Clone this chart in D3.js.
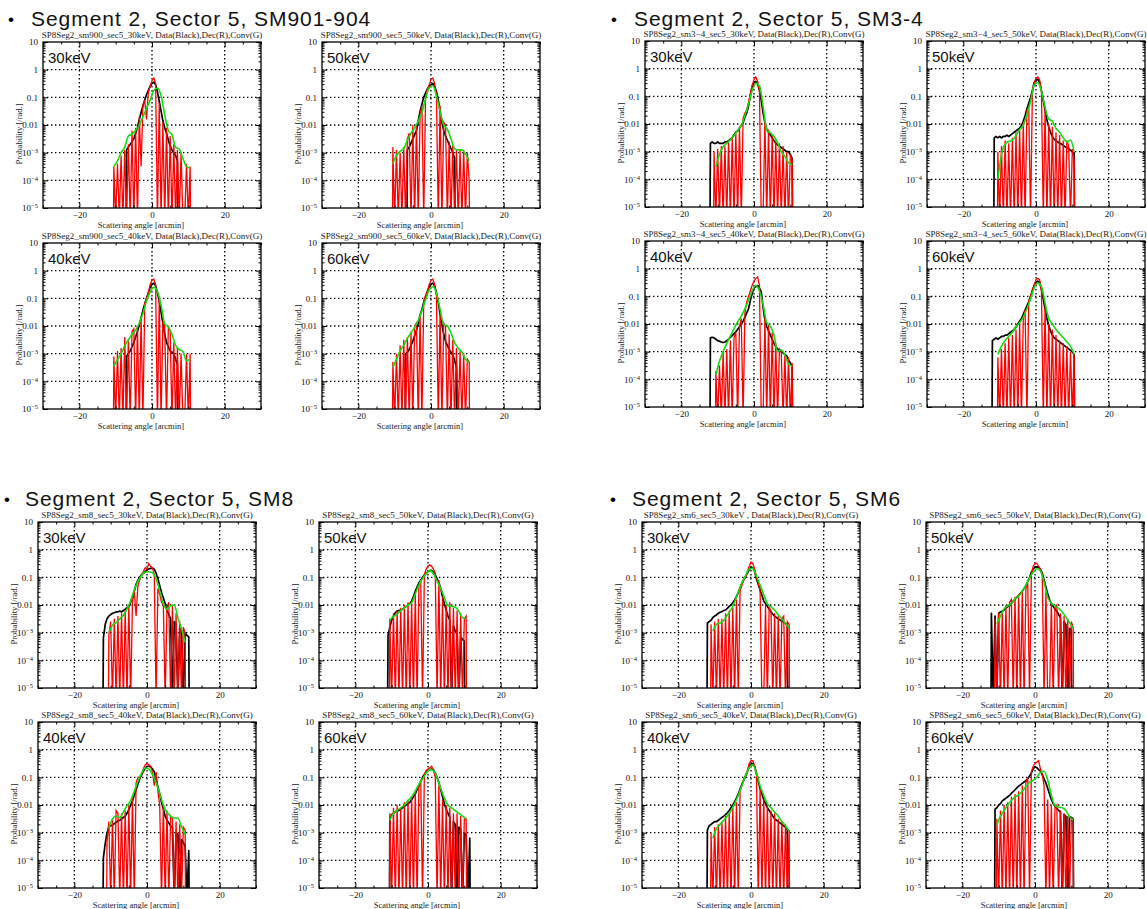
<!DOCTYPE html>
<html>
<head>
<meta charset="utf-8">
<script src="https://cdn.jsdelivr.net/npm/d3@7"></script>
<style>
  body { margin: 0; background: #fff; }
</style>
</head>
<body>
<script>
const _ = null;

// histogram bin centres [arcmin]
const bins = [-12,-11.5,-11,-10.5,-10,-9.5,-9,-8.5,-8,-7.5,-7,-6.5,-6,-5.5,-5,-4.5,-4,-3.5,-3,-2.5,
  -2,-1.5,-1,-0.5,0,0.5,1,1.5,2,2.5,3,3.5,4,4.5,5,5.5,6,6.5,7,7.5,8,8.5,9,9.5,10,10.5,11,11.5,12];
// points of the convolved curve [arcmin]
const gBins = [-10.5,-9.5,-8.5,-7.5,-6.5,-5.5,-4.5,-3.5,-2.5,-1.5,-0.5,0.5,1.5,2.5,3.5,4.5,5.5,6.5,7.5,8.5,9.5,10.5];

const modules = ["sm900", "sm3−4", "sm8", "sm6"];
const headers = ["Segment 2, Sector 5, SM901-904", "Segment 2, Sector 5, SM3-4",
  "Segment 2, Sector 5, SM8", "Segment 2, Sector 5, SM6"];
const energies = ["30keV", "50keV", "40keV", "60keV"];

// all values are log10(probability); -5 = bottom of the plot
// ---- SM901-904
const black_sm900_30 = [_,_,_,_,_,_,_,_,_,_,
  -2.9,-2.8,-2.7,-2.6,-2.5,-2.3,-2.1,-1.8,-1.55,-1.3,
  -1.1,-0.9,-0.75,-0.6,-0.5,-0.45,-0.55,-0.8,-1.15,-1.5,
  -1.85,-2.1,-2.3,-2.55,-2.75,-2.9,-3.0,-3.1,-3.3,_,
  _,_,_,_,_,_,_,_,_];
const red_sm900_30 = [_,_,_,-3.5,-5,-3.4,-5,-3.1,-5,-2.9,
  -5,-2.7,-5,-2.2,-5,-2.1,-5,-1.7,-3.5,-1.3,
  -1.1,-1.8,-0.8,-0.6,-0.4,-0.3,-0.5,-5,-1.2,-5,
  -1.9,-5,-2.1,-5,-2.4,-5,-2.7,-5,-2.9,-5,
  -3.0,-5,-5,-3.4,-5,-3.5,_,_,_];
const green_sm900_30 = [-3.5,-3.3,-3.0,-2.8,-2.4,-2.33,-2.2,-2.0,-1.7,-1.4,-1.1,-0.74,-0.66,-0.94,-1.63,-2.2,-2.35,-2.8,-2.88,-3.2,-3.5,-3.56];

const black_sm900_50 = [_,_,_,_,_,_,_,_,_,_,
  _,-2.9,-2.8,-2.65,-2.5,-2.35,-2.2,-1.85,-1.5,-1.25,
  -1.0,-0.85,-0.7,-0.6,-0.55,-0.5,-0.6,-0.8,-1.1,-1.5,
  -1.9,-2.2,-2.4,-2.55,-2.7,-2.85,-3.0,-3.2,_,_,
  _,_,_,_,_,_,_,_,_];
const red_sm900_50 = [_,_,_,-2.8,-5,-2.9,-5,-3.0,-5,-2.8,
  -5,-2.5,-2.3,-5,-2.0,-5,-2.0,-5,-1.6,-1.3,
  -5,-1.0,-0.7,-0.55,-0.35,-0.3,-0.5,-0.9,-5,-1.3,
  -5,-1.9,-2.0,-5,-2.6,-5,-2.7,-5,-2.9,-5,
  -2.9,-5,-2.9,-5,-3.0,-4.0,_,_,_];
const green_sm900_50 = [-3.4,-3.1,-2.95,-2.85,-2.55,-2.3,-2.1,-1.85,-1.55,-1.05,-0.65,-0.57,-0.95,-1.5,-2.0,-2.15,-2.5,-2.85,-2.9,-2.9,-3.05,-3.3];

const black_sm900_40 = [_,_,_,_,_,_,_,_,_,_,
  -3.1,-3.0,-2.9,-2.75,-2.6,-2.4,-2.2,-1.95,-1.7,-1.45,
  -1.2,-1.0,-0.8,-0.6,-0.5,-0.45,-0.55,-0.8,-1.1,-1.5,
  -1.9,-2.3,-2.6,-2.75,-2.9,-2.95,-3.0,-3.2,-3.4,_,
  _,_,_,_,_,_,_,_,_];
const red_sm900_40 = [_,_,_,-3.1,-5,-2.9,-5,-2.8,-5,-2.4,
  -5,-2.5,-5,-2.2,-2.1,-5,-2.0,-5,-1.7,-5,
  -1.2,-1.0,-0.8,-0.5,-0.35,-0.3,-0.5,-5,-1.0,-5,
  -1.8,-2.0,-5,-2.0,-2.2,-5,-2.6,-5,-2.8,-5,
  -3.0,-5,-5,-3.0,-5,-3.0,_,_,_];
const green_sm900_40 = [-3.45,-3.22,-3.0,-2.72,-2.5,-2.3,-2.15,-1.9,-1.55,-1.1,-0.78,-0.6,-0.75,-1.25,-1.92,-2.03,-2.3,-2.7,-2.85,-2.92,-3.25,-3.2];

const black_sm900_60 = [_,_,_,_,_,_,_,_,_,_,
  -3.0,-2.95,-2.85,-2.7,-2.55,-2.35,-2.15,-1.9,-1.6,-1.4,
  -1.15,-0.95,-0.75,-0.6,-0.5,-0.45,-0.55,-0.8,-1.15,-1.55,
  -1.95,-2.3,-2.55,-2.7,-2.85,-2.95,-3.05,-3.25,-3.5,_,
  _,_,_,_,_,_,_,_,_];
const red_sm900_60 = [_,_,_,-3.3,-5,-3.0,-5,-2.7,-5,-2.5,
  -5,-2.4,-5,-2.2,-5,-2.0,-1.9,-5,-1.6,-5,
  -1.1,-0.9,-0.75,-0.5,-0.35,-0.3,-0.5,-0.9,-5,-1.5,
  -5,-1.9,-2.0,-5,-2.3,-5,-2.5,-5,-2.8,-5,
  -2.9,-5,-3.0,-5,-3.2,-3.3,_,_,_];
const green_sm900_60 = [-3.5,-3.2,-2.9,-2.7,-2.45,-2.25,-2.05,-1.8,-1.45,-1.05,-0.7,-0.58,-0.8,-1.4,-1.95,-2.0,-2.25,-2.6,-2.8,-2.95,-3.2,-3.3];

// ---- SM3-4
const black_sm34_30 = [-2.7,-2.65,-2.7,-2.7,-2.65,-2.7,-2.7,-2.7,-2.65,-2.65,
  -2.6,-2.55,-2.5,-2.4,-2.3,-2.25,-2.15,-2.05,-1.95,-1.75,
  -1.6,-1.35,-0.95,-0.65,-0.5,-0.46,-0.55,-0.77,-1.15,-1.6,
  -1.95,-2.2,-2.3,-2.4,-2.5,-2.6,-2.7,-2.75,-2.8,-2.85,
  -2.9,-2.95,-3.0,-3.0,-3.1,-3.25,_,_,_];
const red_sm34_30 = [_,_,-3.0,-5,-2.9,-5,-2.8,-5,-2.8,-5,
  -2.6,-5,-2.5,-5,-2.3,-5,-2.1,-5,-1.8,-1.6,
  -1.5,-1.2,-0.9,-0.6,-0.4,-0.3,-0.45,-0.8,-5,-5,
  -1.9,-5,-2.2,-5,-2.4,-5,-2.6,-5,-2.7,-5,
  -2.8,-5,-3.0,-5,-3.1,-3.3,_,_,_];
const green_sm34_30 = [-3.55,-3.1,-2.82,-2.7,-2.57,-2.42,-2.23,-2.05,-1.7,-1.28,-0.8,-0.53,-0.62,-1.37,-2.2,-2.32,-2.45,-2.68,-3.0,-3.17,-3.4,-3.48];

const black_sm34_50 = [_,-2.5,-2.45,-2.5,-2.45,-2.5,-2.45,-2.45,-2.4,-2.45,
  -2.4,-2.35,-2.3,-2.25,-2.2,-2.15,-2.05,-1.9,-1.7,-1.45,
  -1.25,-1.05,-0.8,-0.5,-0.42,-0.38,-0.5,-0.8,-1.15,-1.5,
  -1.85,-2.1,-2.3,-2.45,-2.55,-2.6,-2.65,-2.7,-2.72,-2.78,
  -2.82,-2.85,-2.9,-2.95,-3.0,-3.05,_,_,_];
const red_sm34_50 = [_,_,_,-3.0,-5,-2.8,-5,-2.6,-5,-2.7,
  -5,-2.5,-5,-2.3,-5,-2.2,-5,-1.9,-5,-1.5,
  -1.4,-5,-0.9,-0.5,-0.35,-0.3,-0.4,-0.8,-5,-1.5,
  -5,-2.0,-5,-2.1,-5,-2.3,-5,-2.4,-5,-2.6,
  -5,-2.6,-2.8,-5,-2.9,-3.3,_,_,_];
const green_sm34_50 = [-4.0,-3.1,-2.72,-2.63,-2.58,-2.42,-2.2,-2.05,-1.65,-1.18,-0.6,-0.5,-0.8,-1.4,-1.82,-1.9,-2.16,-2.3,-2.5,-2.65,-2.58,-3.0];

const black_sm34_40 = [-2.5,-2.48,-2.5,-2.55,-2.6,-2.62,-2.65,-2.67,-2.65,-2.6,
  -2.55,-2.48,-2.42,-2.35,-2.28,-2.2,-2.1,-2.0,-1.9,-1.75,
  -1.6,-1.45,-1.15,-0.9,-0.7,-0.65,-0.61,-0.7,-0.85,-1.4,
  -1.85,-2.1,-2.25,-2.4,-2.55,-2.7,-2.82,-2.9,-2.97,-3.0,
  -3.05,-3.1,-3.15,-3.3,-3.4,-3.55,_,_,_];
const red_sm34_40 = [_,_,_,-3.7,-5,-3.5,-5,-3.0,-5,-2.9,
  -5,-2.6,-5,-2.5,-2.3,-5,-2.1,-1.8,-5,-1.6,
  -1.2,-1.0,-0.8,-0.6,-0.45,-0.35,-0.3,-0.6,-5,-5,
  -1.8,-5,-2.0,-5,-2.3,-5,-2.7,-5,-2.9,-3.0,
  -5,-3.1,-5,-3.2,-5,-3.4,_,_,_];
const green_sm34_40 = [-3.85,-3.35,-3.0,-2.7,-2.43,-2.17,-1.92,-1.72,-1.45,-1.15,-0.8,-0.61,-0.8,-1.3,-1.95,-2.08,-2.4,-3.0,-2.93,-3.12,-3.45,-3.53];

const black_sm34_60 = [-2.6,-2.55,-2.5,-2.55,-2.5,-2.45,-2.45,-2.4,-2.4,-2.35,
  -2.3,-2.25,-2.2,-2.1,-2.0,-1.9,-1.8,-1.65,-1.5,-1.35,
  -1.2,-1.0,-0.8,-0.6,-0.5,-0.45,-0.5,-0.75,-1.1,-1.45,
  -1.8,-2.05,-2.25,-2.4,-2.5,-2.55,-2.6,-2.65,-2.7,-2.75,
  -2.8,-2.85,-2.9,-2.95,-3.0,-3.1,_,_,_];
const red_sm34_60 = [_,_,_,-3.2,-5,-2.9,-5,-2.7,-5,-2.5,
  -5,-2.4,-5,-2.2,-5,-2.0,-5,-1.8,-1.5,-5,
  -1.2,-1.0,-0.8,-0.6,-0.4,-0.35,-0.4,-0.8,-5,-1.4,
  -5,-2.0,-5,-2.2,-5,-2.4,-5,-2.6,-5,-2.7,
  -5,-2.8,-5,-3.0,-5,-3.1,_,_,_];
const green_sm34_60 = [-3.1,-2.8,-2.6,-2.45,-2.3,-2.1,-1.95,-1.75,-1.45,-1.1,-0.7,-0.52,-0.65,-1.25,-1.8,-2.0,-2.2,-2.35,-2.5,-2.65,-2.8,-3.1];

// ---- SM8
const black_sm8_30 = [-3.2,-2.7,-2.5,-2.4,-2.35,-2.3,-2.28,-2.25,-2.25,-2.22,
  -2.25,-2.2,-2.15,-2.1,-2.05,-1.9,-1.7,-1.5,-1.25,-1.1,
  -1.0,-0.9,-0.85,-0.8,-0.73,-0.7,-0.67,-0.68,-0.7,-0.85,
  -1.05,-1.3,-1.55,-1.75,-1.95,-2.2,-2.35,-2.5,-5,-2.6,
  -2.75,-5,-2.85,-2.9,-5,-3.0,-3.1,-3.15,_];
const red_sm8_30 = [_,_,_,-3.1,-2.6,-5,-2.5,-5,-2.4,-5,
  -2.3,-5,-2.2,-5,-2.0,-5,-1.9,-1.5,-2.4,-1.3,
  -1.1,-0.9,-0.8,-0.65,-0.7,-0.5,-0.6,-0.65,-0.9,-5,
  -1.4,-1.6,-1.9,-2.0,-5,-2.1,-1.9,-5,-2.0,-5,
  -2.3,-5,-2.6,-5,-2.8,-3.0,_,_,_];
const green_sm8_30 = [-3.0,-2.73,-2.64,-2.5,-2.37,-2.15,-1.85,-1.45,-1.15,-0.93,-0.82,-0.8,-0.84,-1.05,-1.5,-1.95,-2.15,-2.03,-2.0,-2.45,-2.87,-3.35];

const black_sm8_50 = [_,_,-3.1,-2.8,-2.55,-2.4,-2.28,-2.22,-2.2,-2.18,
  -2.15,-2.1,-2.05,-2.0,-1.95,-1.85,-1.7,-1.5,-1.35,-1.2,
  -1.1,-1.0,-0.92,-0.85,-0.79,-0.76,-0.75,-0.82,-0.91,-1.05,
  -1.2,-1.4,-1.7,-1.95,-2.18,-2.4,-2.55,-5,-2.75,-2.95,
  -3.05,-5,-3.15,-3.25,-3.3,_,_,_,_];
const red_sm8_50 = [_,_,_,-2.5,-5,-2.3,-5,-2.2,-5,-2.1,
  -5,-2.0,-5,-1.9,-5,-1.95,-5,-1.6,-5,-1.3,
  -1.1,-5,-0.9,-0.7,-0.6,-0.55,-0.6,-0.7,-0.85,-5,
  -1.1,-5,-1.7,-5,-2.0,-5,-1.9,-5,-2.1,-5,
  -2.2,-5,-2.3,-5,-2.5,-2.4,_,_,_];
const green_sm8_50 = [-2.54,-2.42,-2.33,-2.2,-2.1,-2.0,-1.92,-1.6,-1.27,-1.04,-0.87,-0.75,-0.87,-1.14,-1.4,-1.73,-2.03,-2.04,-2.08,-2.22,-2.46,-2.48];

const black_sm8_40 = [-3.9,-3.4,-3.0,-2.8,-2.75,-2.72,-2.68,-2.62,-2.58,-2.55,
  -2.5,-2.45,-2.4,-2.3,-2.17,-2.0,-1.85,-1.65,-1.45,-1.25,
  -1.05,-0.92,-0.78,-0.68,-0.6,-0.6,-0.62,-0.7,-0.8,-1.05,
  -1.35,-1.6,-1.9,-2.15,-2.4,-2.55,-2.65,-2.75,-2.82,-5,
  -3.0,-3.05,-5,-3.25,-3.35,-3.5,-5,-3.65,_];
const red_sm8_40 = [_,_,-3.3,-2.6,-5,-2.5,-5,-2.2,-2.3,-5,
  -2.3,-5,-2.2,-5,-2.0,-5,-1.7,-5,-1.2,-1.0,
  -1.0,-0.9,-0.7,-0.55,-0.5,-0.55,-0.6,-0.8,-1.3,-0.8,
  -1.5,-2.0,-5,-2.0,-5,-2.2,-5,-2.4,-2.5,-5,
  -2.6,-5,-2.7,-5,-2.8,-2.9,_,_,_];
const green_sm8_40 = [-2.85,-2.5,-2.4,-2.46,-2.25,-2.03,-1.84,-1.5,-1.15,-0.85,-0.66,-0.7,-0.9,-1.2,-1.58,-2.0,-2.27,-2.4,-2.47,-2.47,-2.78,-3.07];

const black_sm8_60 = [_,_,_,-2.5,-2.35,-2.3,-2.25,-2.2,-2.2,-2.15,
  -2.1,-2.05,-2.0,-1.95,-1.9,-1.8,-1.7,-1.6,-1.45,-1.3,
  -1.15,-1.0,-0.9,-0.8,-0.75,-0.72,-0.7,-0.72,-0.85,-1.0,
  -1.2,-1.45,-1.7,-1.95,-2.15,-2.3,-2.45,-5,-2.6,-2.7,
  -5,-2.8,-2.9,-5,-3.0,-3.1,-5,-3.2,_];
const red_sm8_60 = [_,_,_,-2.3,-5,-2.1,-5,-2.0,-5,-2.1,
  -5,-1.9,-5,-1.8,-5,-1.7,-5,-1.5,-5,-1.3,
  -1.1,-5,-0.9,-0.75,-0.7,-0.65,-0.6,-0.75,-1.0,-5,
  -1.3,-5,-1.8,-5,-2.0,-5,-2.1,-5,-2.3,-5,
  -2.3,-5,-2.4,-5,-2.5,-2.5,_,_,_];
const green_sm8_60 = [-2.55,-2.3,-2.2,-2.1,-2.0,-1.85,-1.7,-1.5,-1.25,-1.05,-0.85,-0.72,-0.75,-1.0,-1.4,-1.75,-2.0,-2.1,-2.2,-2.3,-2.4,-2.5];

// ---- SM6
const black_sm6_30 = [-2.65,-2.6,-2.55,-2.45,-2.4,-2.36,-2.3,-2.26,-2.24,-2.2,
  -2.18,-2.12,-2.05,-2.0,-1.92,-1.82,-1.7,-1.55,-1.38,-1.22,
  -1.08,-0.97,-0.85,-0.72,-0.64,-0.66,-0.78,-1.05,-1.25,-1.45,
  -1.65,-1.85,-1.95,-2.05,-2.15,-2.25,-2.33,-2.4,-2.45,-2.5,
  -2.54,-2.58,-2.62,-2.66,-2.72,_,_,_,_];
const red_sm6_30 = [_,_,-2.7,-5,-2.6,-5,-2.5,-5,-2.5,-5,
  -2.3,-5,-2.2,-5,-2.1,-5,-1.8,-5,-1.5,-1.3,
  -1.1,-1.0,-0.8,-0.6,-0.45,-0.5,-0.7,-1.0,-1.2,-1.5,
  -5,-5,-2.0,-5,-2.1,-2.2,-5,-2.3,-5,-2.4,
  -5,-2.5,-2.4,-5,-2.6,-2.7,_,_,_];
const green_sm6_30 = [-2.95,-2.7,-2.65,-2.56,-2.36,-2.17,-1.88,-1.54,-1.21,-0.95,-0.7,-0.67,-0.95,-1.28,-1.62,-1.95,-2.07,-2.18,-2.35,-2.5,-2.67,-2.82];

const black_sm6_50 = [-2.3,-5,-2.4,-5,-2.3,-2.25,-2.22,-2.18,-2.1,-2.06,
  -2.0,-1.95,-1.85,-1.8,-1.72,-1.65,-1.58,-1.5,-1.4,-1.3,
  -1.15,-1.02,-0.82,-0.7,-0.63,-0.62,-0.63,-0.72,-0.85,-1.1,
  -1.35,-1.6,-1.8,-1.95,-2.05,-2.15,-2.22,-2.35,-2.45,-5,
  -2.6,-2.7,-5,-2.85,-2.9,_,_,_,_];
const red_sm6_50 = [_,_,-2.5,-5,-2.3,-5,-2.2,-5,-2.0,-5,
  -1.9,-1.8,-5,-1.7,-5,-1.6,-5,-1.5,-5,-1.4,
  -1.2,-5,-0.9,-0.6,-0.5,-0.5,-0.6,-0.7,-0.9,-5,
  -1.5,-5,-5,-1.9,-5,-2.1,-2.0,-5,-2.3,-5,
  -2.4,-5,-2.5,-5,-2.6,-2.8,_,_,_];
const green_sm6_50 = [-2.67,-2.4,-2.14,-2.03,-1.95,-1.78,-1.68,-1.5,-1.28,-1.02,-0.82,-0.68,-0.77,-1.17,-1.72,-1.93,-2.04,-2.12,-2.25,-2.43,-2.64,-2.83];

const black_sm6_40 = [-2.9,-2.75,-2.7,-2.65,-2.6,-2.6,-2.55,-2.5,-2.45,-2.4,
  -2.35,-2.28,-2.2,-2.1,-2.0,-1.88,-1.75,-1.6,-1.42,-1.25,
  -1.1,-0.95,-0.8,-0.62,-0.52,-0.5,-0.6,-0.85,-1.15,-1.4,
  -1.6,-1.8,-1.95,-2.1,-2.2,-2.3,-2.4,-2.5,-2.55,-2.6,
  -2.65,-2.7,-2.75,-2.8,-2.9,_,_,_,_];
const red_sm6_40 = [_,_,-3.0,-5,-2.8,-5,-2.7,-5,-2.6,-5,
  -2.4,-5,-2.3,-5,-2.1,-5,-1.9,-5,-1.5,-1.3,
  -1.1,-0.95,-0.75,-0.5,-0.4,-0.4,-0.6,-0.9,-5,-1.4,
  -5,-1.8,-5,-2.0,-5,-2.2,-5,-2.3,-5,-2.5,
  -5,-2.6,-5,-2.7,-5,-2.9,_,_,_];
const green_sm6_40 = [-3.2,-2.85,-2.7,-2.55,-2.4,-2.2,-1.95,-1.65,-1.3,-0.95,-0.65,-0.55,-0.85,-1.3,-1.65,-1.95,-2.1,-2.25,-2.4,-2.6,-2.75,-2.95];

const black_sm6_60 = [_,_,-2.15,-2.1,-2.0,-1.95,-1.85,-1.8,-1.75,-1.7,
  -1.65,-1.58,-1.52,-1.45,-1.38,-1.32,-1.27,-1.22,-1.17,-1.12,
  -1.05,-0.95,-0.85,-0.7,-0.62,-0.65,-0.72,-0.78,-0.9,-1.05,
  -1.2,-1.4,-1.6,-1.8,-1.95,-2.05,-2.12,-2.2,-2.25,-5,
  -2.35,-2.4,-5,-2.42,-2.45,-2.5,_,_,_];
const red_sm6_60 = [_,_,_,-2.5,-5,-2.2,-5,-2.0,-5,-1.9,
  -5,-1.7,-5,-1.6,-5,-1.5,-5,-1.3,-5,-1.2,
  -1.0,-5,-0.8,-0.6,-0.5,-0.45,-0.4,-0.7,-0.9,-1.3,
  -5,-1.8,-5,-2.0,-5,-2.1,-2.0,-5,-2.2,-5,
  -2.3,-5,-2.4,-5,-2.5,-2.5,_,_,_];
const green_sm6_60 = [-2.72,-2.4,-2.2,-2.0,-1.84,-1.71,-1.64,-1.5,-1.33,-1.18,-1.11,-1.0,-0.82,-0.78,-1.1,-1.65,-2.02,-2.07,-2.1,-2.2,-2.42,-2.54];

// [module][energy] -> [black, red, green]
const series = [
  [[black_sm900_30, red_sm900_30, green_sm900_30], [black_sm900_50, red_sm900_50, green_sm900_50],
   [black_sm900_40, red_sm900_40, green_sm900_40], [black_sm900_60, red_sm900_60, green_sm900_60]],
  [[black_sm34_30, red_sm34_30, green_sm34_30], [black_sm34_50, red_sm34_50, green_sm34_50],
   [black_sm34_40, red_sm34_40, green_sm34_40], [black_sm34_60, red_sm34_60, green_sm34_60]],
  [[black_sm8_30, red_sm8_30, green_sm8_30], [black_sm8_50, red_sm8_50, green_sm8_50],
   [black_sm8_40, red_sm8_40, green_sm8_40], [black_sm8_60, red_sm8_60, green_sm8_60]],
  [[black_sm6_30, red_sm6_30, green_sm6_30], [black_sm6_50, red_sm6_50, green_sm6_50],
   [black_sm6_40, red_sm6_40, green_sm6_40], [black_sm6_60, red_sm6_60, green_sm6_60]]
];

// page layout
const groups = [
  {hx: 31, hy: 26, bx: 8, px: [43, 322], py: [42, 243]},
  {hx: 634, hy: 26, bx: 611, px: [645, 927], py: [41, 241]},
  {hx: 25, hy: 506, bx: 4, px: [38, 319], py: [522, 722]},
  {hx: 632, hy: 506, bx: 610, px: [642, 926], py: [522, 722]}
];
const W = 218, H = 166;
const FLOOR = -5.4;

const svg = d3.select('body').append('svg')
  .attr('width', 1147)
  .attr('height', 909)
  .style('display', 'block');

svg.append('defs').append('clipPath').attr('id', 'plotclip')
  .append('rect').attr('width', W).attr('height', H);

const x = d3.scaleLinear().domain([-30, 30]).range([0, W]);
const y = d3.scaleLog().domain([1e-5, 10]).range([H, 0]);

const majorY = [1e-5, 1e-4, 1e-3, 1e-2, 1e-1, 1, 10];
const minorY = y.ticks().filter(t => !majorY.some(m => Math.abs(m - t) / m < 1e-6));
const smallLabels = {'1': '10', '0': '1', '-1': '0.1', '-2': '0.01'};

const histLine = d3.line()
  .x(d => x(d[0]))
  .y(d => y(Math.pow(10, d[1])));

const smoothLine = d3.line()
  .defined(d => d[1] !== null)
  .x(d => x(d[0]))
  .y(d => y(Math.pow(10, d[1])))
  .curve(d3.curveMonotoneX);

// outline that rises from the floor and falls back to it at both ends
function histPoints(vals) {
  const idx = [];
  vals.forEach((v, i) => { if (v !== null) idx.push(i); });
  const first = idx[0], last = idx[idx.length - 1];
  const lv = v => (v === null || v <= -5) ? FLOOR : v;
  const pts = [[bins[first] - 0.1, FLOOR]];
  for (let i = first; i <= last; i++) pts.push([bins[i], lv(vals[i])]);
  pts.push([bins[last] + 0.1, FLOOR]);
  return pts;
}

function styleAxis(sel) {
  sel.attr('font-family', '"Liberation Serif", "DejaVu Serif", serif')
    .attr('font-size', 9);
  sel.select('.domain').remove();
  sel.selectAll('.tick line').attr('stroke', '#000').attr('stroke-width', 1);
  sel.selectAll('.tick text').attr('fill', '#111');
}

groups.forEach((gp, m) => {
  // slide headline
  svg.append('text')
    .attr('x', gp.bx).attr('y', gp.hy - 1)
    .attr('font-family', '"Liberation Sans", Arial, sans-serif')
    .attr('font-size', 17)
    .text('•');
  svg.append('text')
    .attr('x', gp.hx).attr('y', gp.hy)
    .attr('font-family', '"Liberation Sans", Arial, sans-serif')
    .attr('font-size', 21)
    .attr('letter-spacing', 0.95)
    .attr('fill', '#111')
    .text(headers[m]);

  energies.forEach((en, k) => {
    const left = gp.px[k % 2], top = gp.py[Math.floor(k / 2)];
    const g = svg.append('g').attr('transform', `translate(${left},${top})`);
    const [blk, red, grn] = series[m][k];

    // title
    const sep = (modules[m] === 'sm6' && en === '30keV') ? ' , ' : ', ';
    g.append('text')
      .attr('x', W / 2).attr('y', -4)
      .attr('text-anchor', 'middle')
      .attr('font-family', '"Liberation Serif", "DejaVu Serif", serif')
      .attr('font-size', 9)
      .attr('fill', '#222')
      .text(`SP8Seg2_${modules[m]}_sec5_${en}${sep}Data(Black),Dec(R),Conv(G)`);

    // dotted grid
    const grid = g.append('g')
      .attr('stroke', '#000').attr('stroke-width', 1.3)
      .attr('stroke-dasharray', '1.4,2.6');
    [-20, 0, 20].forEach(v => {
      grid.append('line').attr('x1', x(v)).attr('x2', x(v)).attr('y1', 0).attr('y2', H);
    });
    [1e-4, 1e-3, 1e-2, 0.1, 1].forEach(v => {
      grid.append('line').attr('x1', 0).attr('x2', W).attr('y1', y(v)).attr('y2', y(v));
    });

    // data
    const plot = g.append('g').attr('clip-path', 'url(#plotclip)');
    plot.append('path')
      .attr('d', histLine(histPoints(blk)))
      .attr('fill', 'none').attr('stroke', '#000').attr('stroke-width', 1.7)
      .attr('stroke-linejoin', 'round');
    plot.append('path')
      .attr('d', histLine(histPoints(red)))
      .attr('fill', 'none').attr('stroke', '#ff0000').attr('stroke-width', 1.3);
    plot.append('path')
      .attr('d', smoothLine(gBins.map((b, i) => [b, grn[i]])))
      .attr('fill', 'none').attr('stroke', '#11dd11').attr('stroke-width', 1.6);

    // axes (ticks inside)
    const ax = g.append('g')
      .call(d3.axisLeft(y).tickValues(majorY).tickSize(-5).tickSizeOuter(0).tickPadding(5))
      .call(styleAxis);
    ax.selectAll('.tick text').each(function (d) {
      const e = Math.round(Math.log10(d));
      const t = d3.select(this);
      t.text(null);
      if (e <= -3) {
        t.append('tspan').text('10');
        t.append('tspan').attr('dy', '-0.45em').attr('font-size', 6.5).text('−' + (-e));
      } else {
        t.text(smallLabels[String(e)]);
      }
    });
    g.append('g')
      .call(d3.axisLeft(y).tickValues(minorY).tickSize(-2.5).tickSizeOuter(0).tickFormat(''))
      .call(styleAxis);
    g.append('g').attr('transform', `translate(${W},0)`)
      .call(d3.axisRight(y).tickValues(majorY).tickSize(-5).tickSizeOuter(0).tickFormat(''))
      .call(styleAxis);
    g.append('g').attr('transform', `translate(${W},0)`)
      .call(d3.axisRight(y).tickValues(minorY).tickSize(-2.5).tickSizeOuter(0).tickFormat(''))
      .call(styleAxis);
    g.append('g').attr('transform', `translate(0,${H})`)
      .call(d3.axisBottom(x).tickValues([-20, 0, 20]).tickSize(-5).tickSizeOuter(0).tickPadding(4))
      .call(styleAxis);
    g.append('g').attr('transform', `translate(0,${H})`)
      .call(d3.axisBottom(x).tickValues([-30, -25, -15, -10, -5, 5, 10, 15, 25, 30]).tickSize(-2.5).tickSizeOuter(0).tickFormat(''))
      .call(styleAxis);
    g.append('g')
      .call(d3.axisTop(x).tickValues([-20, 0, 20]).tickSize(-5).tickSizeOuter(0).tickFormat(''))
      .call(styleAxis);
    g.append('g')
      .call(d3.axisTop(x).tickValues([-30, -25, -15, -10, -5, 5, 10, 15, 25, 30]).tickSize(-2.5).tickSizeOuter(0).tickFormat(''))
      .call(styleAxis);

    // frame
    g.append('rect')
      .attr('width', W).attr('height', H)
      .attr('fill', 'none').attr('stroke', '#000').attr('stroke-width', 1.3);

    // axis titles
    g.append('text')
      .attr('x', W / 2 - 11).attr('y', H + 20)
      .attr('text-anchor', 'middle')
      .attr('font-family', '"Liberation Serif", "DejaVu Serif", serif')
      .attr('font-size', 8.5)
      .attr('fill', '#222')
      .text('Scattering angle [arcmin]');
    g.append('text')
      .attr('transform', `translate(-21,${H / 2 + 9}) rotate(-90)`)
      .attr('text-anchor', 'middle')
      .attr('font-family', '"Liberation Serif", "DejaVu Serif", serif')
      .attr('font-size', 8.5)
      .attr('fill', '#222')
      .text('Probability [/rad.]');

    // energy tag
    g.append('text')
      .attr('x', 5).attr('y', 21)
      .attr('font-family', '"Liberation Sans", Arial, sans-serif')
      .attr('font-size', 15)
      .attr('fill', '#111')
      .text(en);
  });
});
</script>
</body>
</html>
